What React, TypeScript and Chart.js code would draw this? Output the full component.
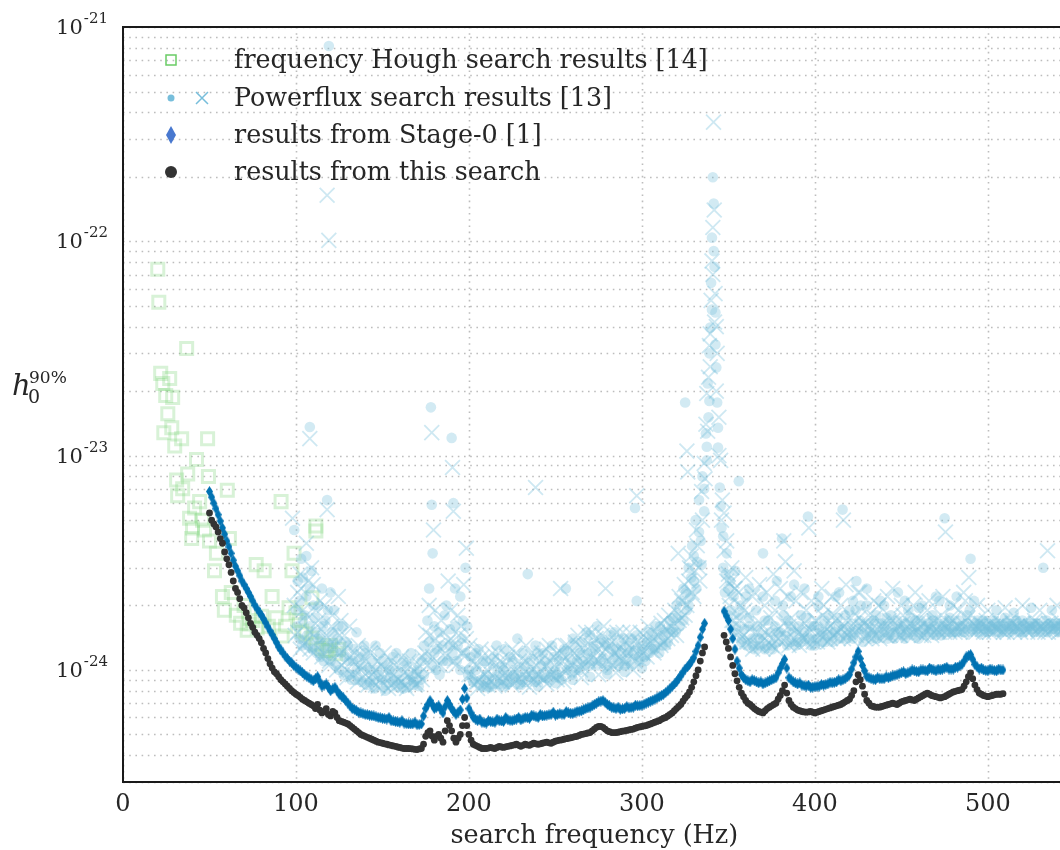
import React, { useEffect, useRef } from "react";
import { Chart, registerables } from "chart.js";

Chart.register(...registerables);

// values are in units of 1e-24
const UNIT = 1e-24;
const X_MIN = 0;
const X_MAX = 545;
const Y_MIN = 3e-25;
const Y_MAX = 1e-21;
const xTickValues = [0, 100, 200, 300, 400, 500];
const gridDecades = [-25, -24, -23, -22];
const yLabelExponents = [-21, -22, -23, -24];
const xTitle = "search frequency (Hz)";
const legendLabels = [
  "frequency Hough search results [14]",
  "Powerflux search results [13]",
  "results from Stage-0 [1]",
  "results from this search",
];

const searchFreq = [
  50, 52.5, 55, 57.5, 60, 62.5, 65, 67.5, 70, 72.5,
  75, 77.5, 80, 82.5, 85, 87.5, 90, 92.5, 95, 97.5,
  100, 102.5, 105, 107.5, 110, 112.5, 115, 117.5, 120, 122.5,
  125, 127.5, 130, 132.5, 135, 137.5, 140, 142.5, 145, 147.5,
  150, 152.5, 155, 157.5, 160, 162.5, 165, 167.5, 170, 172.5,
  175, 177.5, 180, 182.5, 185, 187.5, 190, 192.5, 195, 197.5,
  200, 202.5, 205, 207.5, 210, 212.5, 215, 217.5, 220, 222.5,
  225, 227.5, 230, 232.5, 235, 237.5, 240, 242.5, 245, 247.5,
  250, 252.5, 255, 257.5, 260, 262.5, 265, 267.5, 270, 272.5,
  275, 277.5, 280, 282.5, 285, 287.5, 290, 292.5, 295, 297.5,
  300, 302.5, 305, 307.5, 310, 312.5, 315, 317.5, 320, 322.5,
  325, 327.5, 330, 332.5, 335,
  347.5, 350, 352.5, 355, 357.5, 360, 362.5, 365, 367.5, 370,
  372.5, 375, 377.5, 380, 382.5, 385, 387.5, 390, 392.5, 395,
  397.5, 400, 402.5, 405, 407.5, 410, 412.5, 415, 417.5, 420,
  422.5, 425, 427.5, 430, 432.5, 435, 437.5, 440, 442.5, 445,
  447.5, 450, 452.5, 455, 457.5, 460, 462.5, 465, 467.5, 470,
  472.5, 475, 477.5, 480, 482.5, 485, 487.5, 490, 492.5, 495,
  497.5, 500, 502.5, 505, 507.5,
];

const thisSearchH = [
  5.4, 4.8, 4.4, 3.9, 3.3, 2.85, 2.4, 2.15, 1.95, 1.75,
  1.58, 1.45, 1.34, 1.2, 1.07, 0.98, 0.93, 0.88, 0.84, 0.8,
  0.77, 0.745, 0.72, 0.7, 0.68, 0.69, 0.63, 0.66, 0.61, 0.63,
  0.58, 0.57, 0.56, 0.54, 0.52, 0.5, 0.49, 0.48, 0.47, 0.46,
  0.455, 0.45, 0.445, 0.44, 0.435, 0.43, 0.43, 0.428, 0.425, 0.43,
  0.49, 0.52, 0.47, 0.5, 0.46, 0.58, 0.52, 0.46, 0.5, 0.6,
  0.5, 0.45, 0.44, 0.43, 0.43, 0.435, 0.43, 0.44, 0.435, 0.44,
  0.445, 0.45, 0.44, 0.45, 0.445, 0.455, 0.45, 0.455, 0.46, 0.455,
  0.465, 0.47, 0.475, 0.48, 0.485, 0.49, 0.5, 0.505, 0.51, 0.53,
  0.545, 0.54, 0.52, 0.51, 0.51, 0.515, 0.52, 0.525, 0.53, 0.54,
  0.545, 0.55, 0.56, 0.57, 0.58, 0.595, 0.61, 0.63, 0.66, 0.69,
  0.74, 0.79, 0.88, 1.0, 1.2,
  1.45, 1.26, 1.05, 0.89, 0.78, 0.72, 0.69, 0.66, 0.64, 0.63,
  0.66, 0.68, 0.7, 0.76, 0.85, 0.72, 0.67, 0.65, 0.64, 0.635,
  0.64, 0.63, 0.64, 0.65, 0.66, 0.67, 0.68, 0.69, 0.71, 0.73,
  0.8, 0.95, 0.84, 0.72, 0.68, 0.67, 0.67, 0.68, 0.69, 0.7,
  0.69, 0.71, 0.72, 0.73, 0.72, 0.74, 0.76, 0.78, 0.76, 0.75,
  0.74, 0.75, 0.77, 0.79, 0.8, 0.81, 0.88, 0.97, 0.85, 0.78,
  0.76, 0.75, 0.76, 0.77, 0.77,
];

const stage0H = [
  6.8, 6.0, 5.3, 4.6, 4.0, 3.5, 3.05, 2.75, 2.5, 2.3,
  2.1, 1.93, 1.8, 1.66, 1.52, 1.4, 1.28, 1.2, 1.13, 1.08,
  1.03, 0.99, 0.95, 0.92, 0.89, 0.93, 0.84, 0.86, 0.8, 0.83,
  0.77, 0.74, 0.7, 0.66, 0.645, 0.63, 0.62, 0.615, 0.61, 0.6,
  0.595, 0.59, 0.58, 0.575, 0.57, 0.565, 0.56, 0.56, 0.555, 0.56,
  0.66, 0.72, 0.66, 0.68, 0.63, 0.72, 0.66, 0.62, 0.65, 0.82,
  0.66, 0.6, 0.58, 0.57, 0.565, 0.575, 0.57, 0.58, 0.575, 0.585,
  0.58, 0.59, 0.585, 0.6, 0.595, 0.61, 0.6, 0.61, 0.615, 0.62,
  0.615, 0.625, 0.62, 0.63, 0.625, 0.64, 0.645, 0.66, 0.67, 0.69,
  0.71, 0.72, 0.69, 0.67, 0.66, 0.655, 0.66, 0.665, 0.67, 0.68,
  0.685, 0.7, 0.715, 0.73, 0.75, 0.77, 0.8, 0.84, 0.88, 0.94,
  1.01, 1.06, 1.14, 1.3, 1.55,
  1.88, 1.7, 1.4, 1.1, 0.95, 0.9, 0.88, 0.89, 0.87, 0.86,
  0.88, 0.9, 0.92, 1.02, 1.12, 0.92, 0.88, 0.86, 0.85, 0.84,
  0.83, 0.835, 0.84, 0.85, 0.86, 0.87, 0.88, 0.89, 0.91, 0.95,
  1.08, 1.22, 1.05, 0.93, 0.91, 0.9, 0.91, 0.91, 0.92, 0.94,
  0.95, 0.97, 0.96, 0.98, 0.99, 0.98, 1.0, 0.99, 1.01, 0.99,
  1.0, 1.02, 1.01, 1.01, 1.03, 1.06, 1.15, 1.18, 1.06, 1.01,
  1.0, 0.99, 1.0, 0.99, 1.0,
];

// bins lying halfway between the ones above
const searchFreqMid = [
  51.25, 53.75, 56.25, 58.75, 61.25, 63.75, 66.25, 68.75, 71.25, 73.75,
  76.25, 78.75, 81.25, 83.75, 86.25, 88.75, 91.25, 93.75, 96.25, 98.75,
  101.25, 103.75, 106.25, 108.75, 111.25, 113.75, 116.25, 118.75, 121.25, 123.75,
  126.25, 128.75, 131.25, 133.75, 136.25, 138.75, 141.25, 143.75, 146.25, 148.75,
  151.25, 153.75, 156.25, 158.75, 161.25, 163.75, 166.25, 168.75, 171.25, 173.75,
  176.25, 178.75, 181.25, 183.75, 186.25, 188.75, 191.25, 193.75, 196.25, 198.75,
  201.25, 203.75, 206.25, 208.75, 211.25, 213.75, 216.25, 218.75, 221.25, 223.75,
  226.25, 228.75, 231.25, 233.75, 236.25, 238.75, 241.25, 243.75, 246.25, 248.75,
  251.25, 253.75, 256.25, 258.75, 261.25, 263.75, 266.25, 268.75, 271.25, 273.75,
  276.25, 278.75, 281.25, 283.75, 286.25, 288.75, 291.25, 293.75, 296.25, 298.75,
  301.25, 303.75, 306.25, 308.75, 311.25, 313.75, 316.25, 318.75, 321.25, 323.75,
  326.25, 328.75, 331.25, 333.75, 336.25,
  348.75, 351.25, 353.75, 356.25, 358.75, 361.25, 363.75, 366.25, 368.75, 371.25,
  373.75, 376.25, 378.75, 381.25, 383.75, 386.25, 388.75, 391.25, 393.75, 396.25,
  398.75, 401.25, 403.75, 406.25, 408.75, 411.25, 413.75, 416.25, 418.75, 421.25,
  423.75, 426.25, 428.75, 431.25, 433.75, 436.25, 438.75, 441.25, 443.75, 446.25,
  448.75, 451.25, 453.75, 456.25, 458.75, 461.25, 463.75, 466.25, 468.75, 471.25,
  473.75, 476.25, 478.75, 481.25, 483.75, 486.25, 488.75, 491.25, 493.75, 496.25,
  498.75, 501.25, 503.75, 506.25, 508.75,
];

const thisSearchMid = [
  5.0, 4.65, 4.1, 3.55, 3.1, 2.6, 2.3, 2.0, 1.85, 1.65,
  1.5, 1.4, 1.26, 1.13, 1.02, 0.96, 0.9, 0.86, 0.82, 0.785,
  0.76, 0.73, 0.71, 0.69, 0.66, 0.65, 0.64, 0.62, 0.64, 0.6,
  0.575, 0.565, 0.55, 0.53, 0.51, 0.495, 0.485, 0.475, 0.465, 0.458,
  0.452, 0.447, 0.442, 0.437, 0.432, 0.43, 0.429, 0.426, 0.428, 0.45,
  0.51, 0.49, 0.49, 0.48, 0.52, 0.55, 0.48, 0.48, 0.55, 0.55,
  0.47, 0.445, 0.435, 0.43, 0.432, 0.432, 0.435, 0.437, 0.438, 0.442,
  0.447, 0.445, 0.445, 0.447, 0.45, 0.452, 0.452, 0.458, 0.457, 0.46,
  0.468, 0.472, 0.478, 0.482, 0.488, 0.495, 0.502, 0.508, 0.52, 0.54,
  0.545, 0.53, 0.515, 0.51, 0.512, 0.518, 0.522, 0.528, 0.535, 0.542,
  0.548, 0.555, 0.565, 0.575, 0.588, 0.6, 0.62, 0.645, 0.675, 0.715,
  0.76, 0.83, 0.94, 1.1, 1.28,
  1.35, 1.15, 0.96, 0.83, 0.75, 0.7, 0.675, 0.65, 0.635, 0.645,
  0.67, 0.69, 0.73, 0.8, 0.78, 0.69, 0.66, 0.645, 0.637, 0.637,
  0.635, 0.635, 0.645, 0.655, 0.665, 0.675, 0.685, 0.7, 0.72, 0.76,
  0.88, 0.9, 0.77, 0.7, 0.675, 0.67, 0.675, 0.685, 0.695, 0.695,
  0.7, 0.715, 0.725, 0.725, 0.73, 0.75, 0.77, 0.77, 0.755, 0.745,
  0.745, 0.76, 0.78, 0.795, 0.805, 0.84, 0.93, 0.91, 0.81, 0.77,
  0.755, 0.755, 0.765, 0.77, 0.775,
];

const stage0Mid = [
  6.4, 5.65, 4.95, 4.3, 3.75, 3.25, 2.9, 2.6, 2.4, 2.2,
  2.0, 1.86, 1.73, 1.59, 1.46, 1.34, 1.24, 1.16, 1.1, 1.05,
  1.01, 0.97, 0.935, 0.905, 0.91, 0.88, 0.85, 0.83, 0.815, 0.8,
  0.755, 0.72, 0.68, 0.655, 0.635, 0.625, 0.618, 0.612, 0.605, 0.598,
  0.592, 0.6, 0.578, 0.572, 0.58, 0.562, 0.56, 0.57, 0.556, 0.61,
  0.69, 0.69, 0.67, 0.655, 0.675, 0.69, 0.64, 0.635, 0.73, 0.74,
  0.63, 0.59, 0.59, 0.568, 0.58, 0.572, 0.59, 0.578, 0.6, 0.582,
  0.585, 0.6, 0.592, 0.598, 0.615, 0.605, 0.62, 0.612, 0.618, 0.635,
  0.62, 0.622, 0.64, 0.628, 0.632, 0.642, 0.652, 0.665, 0.68, 0.7,
  0.715, 0.705, 0.68, 0.665, 0.67, 0.658, 0.675, 0.668, 0.685, 0.682,
  0.692, 0.708, 0.722, 0.74, 0.76, 0.785, 0.82, 0.86, 0.91, 0.975,
  1.035, 1.1, 1.22, 1.42, 1.65,
  1.79, 1.55, 1.25, 1.02, 0.92, 0.89, 0.9, 0.88, 0.88, 0.87,
  0.89, 0.91, 0.97, 1.07, 1.02, 0.9, 0.87, 0.87, 0.845, 0.85,
  0.832, 0.838, 0.855, 0.855, 0.875, 0.875, 0.9, 0.9, 0.93, 1.01,
  1.15, 1.13, 0.99, 0.92, 0.905, 0.92, 0.91, 0.93, 0.93, 0.945,
  0.96, 0.98, 0.97, 1.0, 0.985, 1.0, 0.995, 1.02, 1.0, 1.01,
  1.01, 1.03, 1.01, 1.03, 1.045, 1.1, 1.165, 1.12, 1.035, 1.02,
  0.995, 1.01, 0.995, 1.01, 1.0,
];

// [frequency, h0 in 1e-24]
const houghPoints: [number, number][] = [
  [20.1, 74], [20.7, 52], [36.8, 31.6], [21.8, 24.2], [27.0, 22.9], [23.0, 21.7],
  [24.7, 19.1], [28.7, 18.7], [25.9, 15.7], [28.2, 13.5], [23.6, 12.8], [33.9, 12.0],
  [29.9, 11.1], [48.9, 12.0], [42.5, 9.6], [37.4, 8.2], [49.4, 8.0], [31.0, 7.7],
  [34.5, 7.0], [60.3, 6.9], [31.6, 6.5], [91.4, 6.1], [44.3, 6.1], [41.4, 5.7],
  [38.5, 5.1], [46.0, 5.0], [40.2, 4.6], [47.1, 4.5], [61.5, 4.1], [39.7, 4.1],
  [111.5, 4.7], [111.5, 4.45], [54.0, 3.5], [98.9, 3.5], [77.0, 3.1], [81.6, 2.9],
  [52.9, 2.9], [97.7, 2.9], [57.5, 2.2], [86.2, 2.2], [58.6, 1.9], [65.5, 1.8],
  [73.0, 1.64], [92.0, 1.44], [77.6, 1.57], [88.5, 1.75], [96.0, 1.95], [100, 1.85],
  [103.4, 1.52], [109.2, 1.41], [117.2, 1.23], [124.7, 1.25], [109.2, 2.17], [105.7, 1.47],
  [111.5, 1.32], [115, 1.26], [119, 1.23], [123, 1.19], [70, 2.0], [80, 1.78],
  [62.6, 2.3], [50, 4.0], [71.8, 1.53], [84, 1.6], [75, 1.7], [68, 1.65],
  [94, 1.6], [102, 1.7], [120, 1.3],
];

const powerfluxDots: [number, number][] = [
  [119, 815], [108, 13.6], [118, 6.2], [99, 4.5], [106, 3.4],
  [100, 1.9], [101, 2.6], [102, 1.4], [103, 3.3], [104, 1.7], [106, 2.2], [107, 1.3], [108, 1.6],
  [109, 2.9], [111, 1.5], [112, 1.2], [113, 2.0], [114, 1.4], [116, 1.1], [117, 1.7], [118, 1.3],
  [120, 2.3], [121, 1.5], [122, 1.2], [124, 1.4], [125, 1.0], [127, 1.6], [128, 1.15], [130, 1.3],
  [131, 0.95], [133, 1.1], [135, 1.5], [136, 0.9], [138, 1.05], [140, 1.2], [141, 0.85], [143, 1.0],
  [145, 0.9], [146, 1.3], [148, 0.95], [150, 1.1], [152, 0.85], [154, 1.0], [156, 0.88], [158, 1.2],
  [160, 0.9], [162, 0.82], [164, 1.05], [166, 0.9], [168, 0.85], [170, 1.0], [172, 0.9], [174, 1.3],
  [176, 1.7], [177, 2.4], [178, 16.8], [179, 3.5], [178.5, 5.9], [180, 1.2], [181, 1.0], [183, 1.5],
  [185, 1.1], [187, 2.0], [189, 1.3], [190, 12.1], [191, 6.0], [192, 1.6], [193, 1.1], [195, 2.2],
  [196, 1.4], [198, 3.0], [199, 1.6], [200, 1.0], [202, 0.9], [204, 1.2], [206, 0.85], [208, 1.1],
  [210, 0.95], [212, 0.83], [214, 1.05], [216, 1.3], [218, 0.9], [220, 1.0], [222, 0.86], [224, 1.15],
  [226, 0.95], [228, 1.4], [230, 0.9], [232, 1.05], [234, 2.8], [236, 1.0], [238, 0.88], [240, 1.2],
  [242, 0.95], [244, 1.1], [246, 0.9], [248, 1.3], [250, 1.0], [252, 0.92], [254, 1.2], [256, 2.4],
  [258, 1.05], [260, 1.4], [262, 1.0], [264, 1.2], [266, 1.1], [268, 1.5], [270, 1.05], [272, 1.3],
  [274, 1.6], [276, 1.1], [278, 1.35], [280, 1.0], [282, 1.25], [284, 1.5], [286, 1.1], [288, 1.3],
  [290, 1.05], [292, 1.2], [294, 1.4], [296, 5.7], [297, 2.1], [298, 1.15], [300, 1.3], [302, 1.1],
  [304, 1.5], [306, 1.25], [308, 1.6], [310, 1.2], [312, 1.45], [314, 1.3], [316, 1.7], [318, 1.5],
  [320, 2.0], [322, 1.6], [324, 2.4], [325, 17.7], [326, 1.9], [327, 3.0], [328, 2.2], [329, 3.8],
  [330, 2.6], [331, 5.0], [332, 3.2], [333, 6.2], [334, 4.0], [335, 8.0], [336, 5.5], [337, 12.7],
  [337.5, 9.5], [338, 21.7], [338.5, 15.1], [339, 30], [339.5, 39.6], [340, 64], [340.5, 104],
  [341, 199], [341.5, 150], [342, 76], [342.5, 46.6], [343, 25.8], [343.5, 17.7], [344, 10.9],
  [345, 7.1], [346, 4.6], [347, 3.0], [348, 2.3], [349, 3.5], [350, 1.8], [351, 2.6], [353, 1.5],
  [356, 7.6], [357, 2.0], [358, 1.4], [360, 2.2], [362, 1.6], [364, 1.3], [366, 1.9], [368, 1.4],
  [370, 3.5], [371, 1.25], [373, 1.7], [375, 1.3], [377, 2.1], [379, 1.5], [381, 4.1], [382, 1.8],
  [384, 1.3], [386, 1.6], [388, 2.5], [390, 1.35], [392, 1.8], [394, 1.4], [396, 5.2], [398, 1.6],
  [400, 1.3], [402, 2.0], [404, 1.5], [406, 1.35], [408, 1.8], [410, 1.45], [412, 2.2], [414, 1.6],
  [416, 5.6], [418, 1.4], [420, 1.9], [422, 1.5], [424, 2.6], [426, 1.7], [428, 1.35], [430, 2.0],
  [432, 1.5], [434, 1.7], [436, 1.4], [438, 2.1], [440, 1.6], [442, 1.4], [444, 1.8], [446, 1.5],
  [448, 2.3], [450, 1.6], [452, 1.4], [454, 1.9], [456, 1.55], [458, 1.7], [460, 1.4], [462, 2.0],
  [464, 1.6], [466, 1.5], [468, 1.8], [470, 1.45], [472, 2.1], [474, 1.6], [475, 5.1], [476, 1.5],
  [478, 1.75], [480, 1.5], [482, 2.2], [484, 1.6], [486, 1.5], [488, 1.8], [490, 3.3], [492, 1.55],
  [494, 1.7], [496, 1.6], [498, 1.5], [500, 1.65], [502, 1.55], [504, 1.7], [506, 1.6], [508, 1.5],
  [510, 1.75], [512, 1.6], [514, 1.55], [516, 1.65], [518, 1.5], [520, 1.7], [522, 1.6], [524, 1.55],
  [526, 1.65], [528, 1.6], [530, 1.5], [532, 3.0], [534, 1.7], [536, 1.6], [538, 1.55], [540, 1.65],
  [542, 1.6], [544, 1.55],
  [100.5, 1.6], [102, 2.1], [103.5, 1.3], [105, 1.8], [106.5, 1.45], [108, 2.4], [109.5, 1.25],
  [111, 1.75], [112.5, 1.4], [114, 1.15], [115.5, 1.6], [117, 1.25], [118.5, 1.9], [120, 1.1],
  [121.5, 1.35], [123, 1.05], [124.5, 1.6], [126, 1.2], [127.5, 0.95], [129, 1.35], [130.5, 1.1],
  [132, 0.9], [133.5, 1.25], [135, 1.0], [136.5, 1.15], [138, 0.88], [139.5, 1.3], [141, 1.0],
  [142.5, 0.88], [144, 1.1], [145.5, 0.82], [147, 1.0], [148.5, 1.2], [150, 0.9], [151.5, 0.8],
  [153, 1.05], [154.5, 0.92], [156, 1.15], [157.5, 0.84], [159, 0.97], [160.5, 0.86], [162, 1.1],
  [163.5, 0.83], [165, 0.95], [166.5, 1.2], [168, 0.88], [169.5, 0.96], [171, 0.84], [172.5, 1.1],
  [174, 0.95], [175.5, 1.15], [177, 1.35], [178.5, 1.05], [180, 1.6], [181.5, 1.25], [183, 0.95],
  [184.5, 1.3], [186, 1.8], [187.5, 1.1], [189, 1.55], [190.5, 1.2], [192, 2.4], [193.5, 1.3],
  [195, 1.0], [196.5, 1.7], [198, 1.2], [199.5, 0.95], [201, 1.15], [202.5, 0.88], [204, 1.0],
  [205.5, 1.25], [207, 0.9], [208.5, 0.84], [210, 1.1], [211.5, 0.9], [213, 0.86], [214.5, 1.15],
  [216, 0.95], [217.5, 0.86], [219, 1.05], [220.5, 1.25], [222, 0.95], [223.5, 0.88], [225, 1.1],
  [226.5, 0.92], [228, 1.0], [229.5, 0.86], [231, 1.2], [232.5, 0.95], [234, 0.9], [235.5, 1.1],
  [237, 0.95], [238.5, 1.3], [240, 0.9], [241.5, 1.05], [243, 1.2], [244.5, 0.92], [246, 1.05],
  [247.5, 0.95], [249, 1.15], [250.5, 0.95], [252, 1.1], [253.5, 0.9], [255, 1.25], [256.5, 1.0],
  [258, 1.15], [259.5, 0.95], [261, 1.3], [262.5, 1.1], [264, 1.0], [265.5, 1.35], [267, 1.05],
  [268.5, 1.2], [270, 1.45], [271.5, 1.1], [273, 1.25], [274.5, 1.05], [276, 1.4], [277.5, 1.15],
  [279, 1.3], [280.5, 1.05], [282, 1.45], [283.5, 1.15], [285, 1.25], [286.5, 1.05], [288, 1.2],
  [289.5, 1.4], [291, 1.1], [292.5, 1.3], [294, 1.05], [295.5, 1.2], [297, 1.45], [298.5, 1.1],
  [300, 1.25], [301.5, 1.15], [303, 1.35], [304.5, 1.2], [306, 1.45], [307.5, 1.25], [309, 1.35],
  [310.5, 1.6], [312, 1.3], [313.5, 1.5], [315, 1.35], [316.5, 1.55], [318, 1.75], [319.5, 1.5],
  [321, 1.8], [322.5, 2.1], [324, 1.7], [325.5, 2.3], [327, 2.0], [328.5, 2.7], [330, 3.4],
  [331.5, 2.4], [333, 4.4], [334.5, 3.1], [336, 7.0], [337.5, 11], [339, 18], [340.5, 48],
  [341.5, 90], [342.5, 33], [344, 13.5], [345.5, 5.8], [347, 4.2], [348.5, 2.8], [350, 2.4],
  [351.5, 1.9], [353, 2.2], [354.5, 1.6], [356, 1.8], [357.5, 1.35], [359, 1.55], [360.5, 1.3],
  [362, 1.75], [363.5, 1.4], [365, 1.25], [366.5, 1.6], [368, 1.3], [369.5, 1.45], [371, 1.7],
  [372.5, 1.3], [374, 1.5], [375.5, 1.25], [377, 1.6], [378.5, 1.35], [380, 1.5], [381.5, 2.0],
  [383, 1.45], [384.5, 1.7], [386, 1.35], [387.5, 1.5], [389, 1.3], [390.5, 1.6], [392, 1.35],
  [393.5, 1.5], [395, 1.75], [396.5, 1.4], [398, 1.3], [399.5, 1.6], [401, 1.4], [402.5, 1.55],
  [404, 1.35], [405.5, 1.7], [407, 1.45], [408.5, 1.6], [410, 1.35], [411.5, 1.5], [413, 1.75],
  [414.5, 1.4], [416, 1.55], [417.5, 1.8], [419, 1.45], [420.5, 1.6], [422, 1.4], [423.5, 1.9],
  [425, 1.55], [426.5, 2.0], [428, 1.6], [429.5, 1.45], [431, 1.65], [432.5, 1.4], [434, 1.55],
  [435.5, 1.8], [437, 1.45], [438.5, 1.65], [440, 1.5], [441.5, 1.75], [443, 1.45], [444.5, 1.6],
  [446, 1.4], [447.5, 1.7], [449, 1.55], [450.5, 1.45], [452, 1.65], [453.5, 1.5], [455, 1.75],
  [456.5, 1.45], [458, 1.6], [459.5, 1.5], [461, 1.7], [462.5, 1.55], [464, 1.45], [465.5, 1.65],
  [467, 1.55], [468.5, 1.7], [470, 1.5], [471.5, 1.6], [473, 1.45], [474.5, 1.65], [476, 1.55],
  [477.5, 1.7], [479, 1.5], [480.5, 1.6], [482, 1.5], [483.5, 1.7], [485, 1.6], [486.5, 1.5],
  [488, 1.65], [489.5, 1.9], [491, 1.55], [492.5, 1.65], [494, 1.5], [495.5, 1.6], [497, 1.7],
  [498.5, 1.55], [500, 1.5], [501.5, 1.6], [503, 1.55], [504.5, 1.65], [506, 1.5], [507.5, 1.6],
  [509, 1.55], [510.5, 1.65], [512, 1.5], [513.5, 1.6], [515, 1.55], [516.5, 1.7], [518, 1.6],
  [519.5, 1.55], [521, 1.5], [522.5, 1.65], [524, 1.6], [525.5, 1.55], [527, 1.5], [528.5, 1.65],
  [530, 1.6], [531.5, 1.55], [533, 1.6], [534.5, 1.5], [536, 1.65], [537.5, 1.55], [539, 1.6],
  [540.5, 1.5], [542, 1.65], [543.5, 1.6], [545, 1.55],
  [354, 2.9], [362, 2.4], [370, 2.2], [378, 2.6], [386, 2.2], [394, 2.4], [402, 2.2], [414, 2.3],
  [422, 2.1], [430, 2.4], [440, 2.0], [452, 2.1], [460, 1.95], [470, 2.2], [478, 2.0], [492, 2.1],
  [505, 1.9], [515, 1.85], [525, 1.95], [537, 1.9],
  [210, 0.83], [220, 0.84], [230, 0.85], [240, 0.84], [250, 0.87], [260, 0.9], [270, 0.93],
  [280, 0.96], [290, 0.98], [300, 1.02], [104, 2.7], [110, 2.0], [115, 2.4], [122, 1.9],
];

const powerfluxCrosses: [number, number][] = [
  [118, 164], [119, 101], [108, 12.0], [118, 5.6], [106, 3.9],
  [98, 5.1], [99, 2.0], [101, 1.5], [102.5, 2.8], [104, 1.3], [106, 1.8], [108, 1.25], [110, 2.5],
  [111.5, 1.3], [113, 1.7], [115, 1.15], [116.5, 2.0], [118, 1.4], [119.5, 1.1], [121, 1.8], [123, 1.3],
  [124.5, 2.2], [126, 1.2], [128, 1.45], [129.5, 1.0], [131, 1.6], [132.5, 1.1], [134, 0.95], [136, 1.3],
  [137.5, 1.0], [139, 1.15], [141, 0.9], [142.5, 1.25], [144, 0.95], [146, 0.85], [147.5, 1.1], [149, 0.9],
  [151, 1.2], [153, 0.95], [155, 0.85], [157, 1.05], [159, 0.9], [161, 1.15], [163, 0.85], [165, 0.95],
  [167, 1.1], [169, 0.85], [171, 0.95], [173, 1.15], [175, 1.5], [177, 2.0], [178.5, 12.8], [179.5, 4.5],
  [180.5, 1.4], [182, 1.05], [184, 1.7], [186, 1.2], [188, 2.6], [189.5, 1.4], [190.5, 8.8], [191, 5.5],
  [191.5, 1.1], [193.5, 1.8], [195.5, 1.2], [197, 2.5], [198.5, 3.7], [200.5, 1.3], [201.5, 0.95],
  [203, 1.1], [205, 0.88], [207, 1.25], [209, 0.95], [211, 0.85], [213, 1.1], [215, 0.92], [217, 1.2],
  [219, 0.88], [221, 1.05], [223, 0.92], [225, 1.25], [227, 0.9], [229, 1.1], [231, 0.95], [233, 1.3],
  [235, 0.9], [237, 1.15], [238.5, 7.1], [239, 0.95], [241, 1.1], [243, 0.9], [245, 1.25], [247, 0.95],
  [249, 1.15], [251, 0.9], [253, 2.4], [253.5, 1.2], [255, 1.0], [257, 1.3], [259, 1.05], [261, 1.2],
  [263, 1.45], [265, 1.05], [267, 1.3], [269, 1.15], [271, 1.5], [273, 1.1], [275, 1.25], [277, 1.45],
  [279, 2.4], [279.5, 1.1], [281, 1.3], [283, 1.05], [285, 1.35], [287, 1.15], [289, 1.5], [291, 1.1],
  [293, 1.3], [295, 1.15], [297, 6.5], [297.5, 1.35], [299, 1.2], [301, 1.45], [303, 1.15], [305, 1.35],
  [307, 1.2], [309, 1.5], [311, 1.3], [313, 1.7], [315, 1.4], [317, 1.6], [319, 1.9], [321, 3.5],
  [321.5, 1.7], [323, 2.1], [325, 1.8], [326, 10.5], [326.5, 8.4], [327, 2.6], [328.5, 3.4], [330, 2.2],
  [331.5, 4.5], [333, 3.0], [334.5, 6.8], [336, 9.2], [337, 14], [337.5, 19.5], [338.5, 23.2],
  [339, 32.6], [339.5, 37], [340, 53], [340.5, 81], [341, 116], [341.4, 360], [341.8, 140],
  [342.3, 57], [343, 40], [343.5, 30], [344.5, 15.1], [345.5, 9.5], [346.5, 6.2], [347.5, 5.4],
  [349, 4.0], [350, 2.8], [351, 2.2], [352, 3.0], [353, 1.7], [354, 2.4], [355.5, 1.5], [357, 2.0],
  [359, 1.45], [361, 1.8], [363, 1.35], [365, 2.3], [367, 1.5], [369, 1.3], [371, 2.0], [373, 1.45],
  [375, 1.3], [377, 1.9], [379, 1.4], [382, 4.0], [383, 3.2], [385, 1.6], [387, 1.35], [389, 2.1],
  [391, 1.5], [393, 1.4], [395, 1.9], [396.5, 4.6], [397, 1.5], [399, 1.35], [401, 1.7], [403, 1.45],
  [405, 2.0], [407, 1.55], [409, 1.4], [411, 1.8], [413, 1.5], [415, 2.0], [416.5, 5.0], [417, 1.6],
  [419, 1.45], [421, 1.75], [423, 1.5], [425, 2.3], [427, 1.6], [429, 1.4], [431, 1.8], [433, 1.55],
  [435, 1.45], [437, 2.0], [439, 1.6], [441, 1.45], [443, 1.7], [445, 2.4], [447, 1.55], [449, 1.45],
  [451, 1.8], [453, 1.5], [455, 1.65], [457, 2.0], [459, 1.5], [461, 1.7], [463, 1.45], [465, 1.9],
  [467, 1.55], [469, 1.65], [471, 1.5], [473, 1.8], [475.5, 4.4], [477, 1.55], [479, 1.65], [481, 1.5],
  [483, 1.9], [485, 1.55], [487, 2.1], [489, 2.7], [491, 1.6], [493, 1.5], [495, 1.65], [497, 1.55],
  [499, 1.7], [501, 1.5], [503, 1.6], [505, 1.55], [507, 1.65], [509, 1.5], [511, 1.6], [513, 1.7],
  [515, 1.55], [517, 1.6], [519, 1.5], [521, 1.65], [523, 1.55], [525, 1.6], [527, 1.7], [529, 1.55],
  [531, 1.6], [533, 1.5], [534.5, 3.6], [535, 1.65], [537, 1.55], [539, 1.6], [541, 1.7], [543, 1.55],
  [545, 1.6],
  [99.5, 1.45], [101, 2.3], [102.5, 1.25], [104, 1.9], [105.5, 1.35], [107, 2.6], [108.5, 1.5],
  [110, 1.2], [111.5, 1.9], [113, 1.3], [114.5, 1.55], [116, 1.2], [117.5, 1.45], [119, 1.05],
  [120.5, 1.6], [122, 1.25], [123.5, 1.0], [125, 1.45], [126.5, 1.05], [128, 1.25], [129.5, 0.92],
  [131, 1.15], [132.5, 0.95], [134, 1.2], [135.5, 0.88], [137, 1.05], [138.5, 0.92], [140, 1.1],
  [141.5, 0.85], [143, 1.2], [144.5, 0.88], [146, 1.0], [147.5, 0.84], [149, 1.05], [150.5, 0.86],
  [152, 1.0], [153.5, 0.82], [155, 1.1], [156.5, 0.95], [158, 0.84], [159.5, 1.05], [161, 0.88],
  [162.5, 0.97], [164, 0.82], [165.5, 1.1], [167, 0.9], [168.5, 0.98], [170, 0.86], [171.5, 1.05],
  [173, 0.9], [174.5, 1.2], [176, 1.05], [177.5, 1.45], [179, 1.15], [180.5, 1.9], [182, 1.3],
  [183.5, 1.05], [185, 1.5], [186.5, 1.15], [188, 1.35], [189.5, 1.9], [191, 1.3], [192.5, 1.05],
  [194, 1.45], [195.5, 1.6], [197, 1.2], [198.5, 1.4], [200, 0.95], [201.5, 1.1], [203, 0.86],
  [204.5, 1.05], [206, 0.9], [207.5, 1.15], [209, 0.86], [210.5, 1.0], [212, 0.9], [213.5, 1.2],
  [215, 0.86], [216.5, 1.0], [218, 1.1], [219.5, 0.88], [221, 0.97], [222.5, 1.15], [224, 0.88],
  [225.5, 1.0], [227, 1.2], [228.5, 0.9], [230, 1.05], [231.5, 0.88], [233, 1.1], [234.5, 0.95],
  [236, 1.2], [237.5, 0.9], [239, 1.05], [240.5, 0.95], [242, 1.2], [243.5, 0.92], [245, 1.05],
  [246.5, 1.3], [248, 0.95], [249.5, 1.05], [251, 1.2], [252.5, 0.95], [254, 1.1], [255.5, 1.3],
  [257, 1.0], [258.5, 1.2], [260, 1.05], [261.5, 1.35], [263, 1.15], [264.5, 1.0], [266, 1.25],
  [267.5, 1.5], [269, 1.1], [270.5, 1.3], [272, 1.15], [273.5, 1.4], [275, 1.1], [276.5, 1.3],
  [278, 1.6], [279.5, 1.25], [281, 1.1], [282.5, 1.35], [284, 1.2], [285.5, 1.5], [287, 1.25],
  [288.5, 1.1], [290, 1.35], [291.5, 1.2], [293, 1.5], [294.5, 1.25], [296, 1.1], [297.5, 1.3],
  [299, 1.5], [300.5, 1.2], [302, 1.35], [303.5, 1.6], [305, 1.3], [306.5, 1.4], [308, 1.25],
  [309.5, 1.45], [311, 1.65], [312.5, 1.35], [314, 1.55], [315.5, 1.8], [317, 1.45], [318.5, 1.65],
  [320, 1.45], [321.5, 2.2], [323, 1.75], [324.5, 2.5], [326, 2.0], [327.5, 3.0], [329, 2.3],
  [330.5, 2.9], [332, 3.8], [333.5, 2.6], [335, 5.0], [336.5, 7.8], [338, 13], [339.5, 26],
  [341, 70], [342, 42], [343, 20], [344.5, 10], [346, 5.0], [347.5, 3.6], [349, 2.6], [350.5, 2.0],
  [352, 1.7], [353.5, 2.4], [355, 1.45], [356.5, 1.7], [358, 1.3], [359.5, 1.9], [361, 1.35],
  [362.5, 1.55], [364, 1.25], [365.5, 1.5], [367, 1.3], [368.5, 1.65], [370, 1.25], [371.5, 1.5],
  [373, 1.35], [374.5, 1.75], [376, 1.4], [377.5, 1.25], [379, 1.55], [380.5, 1.35], [382, 1.65],
  [383.5, 1.4], [385, 1.3], [386.5, 1.75], [388, 1.4], [389.5, 1.55], [391, 1.3], [392.5, 1.45],
  [394, 1.65], [395.5, 1.35], [397, 1.55], [398.5, 1.4], [400, 1.7], [401.5, 1.35], [403, 1.5],
  [404.5, 1.8], [406, 1.45], [407.5, 1.35], [409, 1.6], [410.5, 1.45], [412, 1.7], [413.5, 1.4],
  [415, 1.55], [416.5, 1.4], [418, 1.7], [419.5, 1.5], [421, 1.4], [422.5, 1.65], [424, 1.45],
  [425.5, 1.75], [427, 1.5], [428.5, 1.65], [430, 1.45], [431.5, 1.6], [433, 1.4], [434.5, 1.75],
  [436, 1.55], [437.5, 1.4], [439, 1.65], [440.5, 1.5], [442, 1.6], [443.5, 1.45], [445, 1.7],
  [446.5, 1.5], [448, 1.6], [449.5, 1.45], [451, 1.65], [452.5, 1.55], [454, 1.45], [455.5, 1.6],
  [457, 1.5], [458.5, 1.75], [460, 1.55], [461.5, 1.45], [463, 1.65], [464.5, 1.5], [466, 1.6],
  [467.5, 1.45], [469, 1.7], [470.5, 1.55], [472, 1.5], [473.5, 1.65], [475, 1.5], [476.5, 1.6],
  [478, 1.5], [479.5, 1.7], [481, 1.55], [482.5, 1.6], [484, 1.5], [485.5, 1.65], [487, 1.55],
  [488.5, 1.75], [490, 1.6], [491.5, 1.5], [493, 1.6], [494.5, 1.55], [496, 1.65], [497.5, 1.5],
  [499, 1.6], [500.5, 1.55], [502, 1.65], [503.5, 1.5], [505, 1.6], [506.5, 1.55], [508, 1.65],
  [509.5, 1.55], [511, 1.5], [512.5, 1.6], [514, 1.65], [515.5, 1.5], [517, 1.6], [518.5, 1.55],
  [520, 1.65], [521.5, 1.55], [523, 1.5], [524.5, 1.6], [526, 1.55], [527.5, 1.65], [529, 1.5],
  [530.5, 1.6], [532, 1.55], [533.5, 1.6], [535, 1.5], [536.5, 1.65], [538, 1.55], [539.5, 1.6],
  [541, 1.5], [542.5, 1.6], [544, 1.55],
  [352, 2.6], [356, 2.3], [360, 2.7], [364, 2.2], [368, 2.5], [372, 2.3], [376, 2.8], [380, 2.4],
  [384, 2.2], [388, 2.9], [392, 2.3], [398, 2.1], [404, 2.4], [410, 2.2], [418, 2.5], [426, 2.3],
  [434, 2.1], [442, 2.2], [450, 2.0], [458, 2.3], [466, 2.1], [474, 2.2], [480, 2.0], [486, 2.3],
  [494, 2.0], [500, 1.9], [510, 1.95], [520, 2.0], [530, 1.9], [540, 2.0],
  [205, 0.82], [215, 0.84], [225, 0.85], [235, 0.83], [245, 0.86], [255, 0.88], [265, 0.92],
  [275, 0.95], [285, 0.97], [295, 1.0], [103, 2.4], [109, 3.0], [114, 2.1], [126, 1.7],
];

const FONT = "'DejaVu Serif', serif";
const TEXT_COLOR = "#262626";
const GRID_COLOR = "#bdbdbd";
const HOUGH_COLOR = "#6ACC65";
const PF_COLOR = "#77BEDB";
const STAGE0_LEGEND = "#4878CF";
const STAGE0_COLOR = "#0072B2";
const SEARCH_COLOR = "#333333";

function makeDiamond(w: number, h: number, color: string) {
  const c = document.createElement("canvas");
  c.width = w;
  c.height = h;
  const g = c.getContext("2d")!;
  g.fillStyle = color;
  g.beginPath();
  g.moveTo(w / 2, 0);
  g.lineTo(w, h / 2);
  g.lineTo(w / 2, h);
  g.lineTo(0, h / 2);
  g.closePath();
  g.fill();
  return c;
}

function yGridTicks() {
  const out: { value: number }[] = [];
  for (const e of gridDecades) {
    for (let k = 1; k <= 9; k++) {
      const v = k * Math.pow(10, e);
      if (v >= Y_MIN * 0.999 && v <= Y_MAX * 1.001) out.push({ value: v });
    }
  }
  out.push({ value: Y_MAX });
  return out;
}

const gridPlugin = {
  id: "dottedGrid",
  beforeDatasetsDraw(chart: any) {
    const { ctx, chartArea: a, scales } = chart;
    ctx.save();
    ctx.strokeStyle = GRID_COLOR;
    ctx.lineWidth = 1.6;
    ctx.setLineDash([1.6, 4.6]);
    ctx.beginPath();
    for (const t of scales.y.ticks) {
      const y = Math.round(scales.y.getPixelForValue(t.value)) + 0.5;
      ctx.moveTo(a.left, y);
      ctx.lineTo(a.right, y);
    }
    for (const t of scales.x.ticks) {
      const x = Math.round(scales.x.getPixelForValue(t.value)) + 0.5;
      ctx.moveTo(x, a.top);
      ctx.lineTo(x, a.bottom);
    }
    ctx.stroke();
    ctx.restore();
  },
};

const overlayPlugin = {
  id: "overlay",
  afterDraw(chart: any) {
    const { ctx, chartArea: a, scales } = chart;
    ctx.save();
    // frame
    ctx.strokeStyle = "#1a1a1a";
    ctx.lineWidth = 2;
    ctx.strokeRect(a.left, a.top, a.right - a.left, a.bottom - a.top);

    // y tick labels 10^n
    ctx.fillStyle = TEXT_COLOR;
    ctx.textAlign = "right";
    ctx.textBaseline = "alphabetic";
    const rightX = a.left - 15;
    for (const e of yLabelExponents) {
      const y = scales.y.getPixelForValue(Math.pow(10, e));
      const sup = String(e);
      ctx.font = `15px ${FONT}`;
      const sw = ctx.measureText(sup).width;
      ctx.fillText(sup, rightX, y - 4);
      ctx.font = `21px ${FONT}`;
      ctx.fillText("10", rightX - sw - 1, y + 7);
    }

    // y axis label h_0^{90%}
    ctx.textAlign = "left";
    ctx.font = `italic 29px ${FONT}`;
    ctx.fillText("h", 4, 387);
    ctx.font = `19px ${FONT}`;
    ctx.fillText("0", 20, 395);
    ctx.font = `17px ${FONT}`;
    ctx.fillText("90%", 21, 375);

    // legend
    const lx = 163;
    const rows = [52, 90, 127, 164];
    ctx.strokeStyle = HOUGH_COLOR;
    ctx.lineWidth = 1.5;
    ctx.strokeRect(lx - 5, rows[0] - 5, 10, 10);
    ctx.fillStyle = PF_COLOR;
    ctx.beginPath();
    ctx.arc(lx, rows[1], 3.5, 0, Math.PI * 2);
    ctx.fill();
    ctx.strokeStyle = PF_COLOR;
    ctx.beginPath();
    ctx.moveTo(lx + 25, rows[1] - 6);
    ctx.lineTo(lx + 37, rows[1] + 6);
    ctx.moveTo(lx + 37, rows[1] - 6);
    ctx.lineTo(lx + 25, rows[1] + 6);
    ctx.stroke();
    ctx.fillStyle = STAGE0_LEGEND;
    ctx.beginPath();
    ctx.moveTo(lx, rows[2] - 9);
    ctx.lineTo(lx + 5, rows[2]);
    ctx.lineTo(lx, rows[2] + 9);
    ctx.lineTo(lx - 5, rows[2]);
    ctx.closePath();
    ctx.fill();
    ctx.fillStyle = SEARCH_COLOR;
    ctx.beginPath();
    ctx.arc(lx, rows[3], 6, 0, Math.PI * 2);
    ctx.fill();

    ctx.fillStyle = TEXT_COLOR;
    ctx.font = `25.4px ${FONT}`;
    ctx.textBaseline = "middle";
    legendLabels.forEach((t, i) => ctx.fillText(t, 226, rows[i] + 1));
    ctx.restore();
  },
};

export default function App() {
  const ref = useRef<HTMLCanvasElement | null>(null);
  useEffect(() => {
    if (!ref.current) return;
    const diamond = makeDiamond(7, 11, STAGE0_COLOR);
    const toPts = (fs: number[], vs: number[]) =>
      fs.slice(0, vs.length).map((f, i) => ({ x: f, y: vs[i] * UNIT }));
    const chart = new Chart(ref.current, {
      type: "scatter",
      data: {
        datasets: [
          {
            label: legendLabels[3],
            data: [...toPts(searchFreq, thisSearchH), ...toPts(searchFreqMid, thisSearchMid)],
            pointStyle: "circle",
            pointRadius: 3.4,
            pointBackgroundColor: SEARCH_COLOR,
            pointBorderWidth: 0,
            order: 0,
          },
          {
            label: legendLabels[2],
            data: [...toPts(searchFreq, stage0H), ...toPts(searchFreqMid, stage0Mid)],
            pointStyle: diamond,
            pointRadius: 4,
            order: 1,
          },
          {
            label: legendLabels[1] + " (x)",
            data: powerfluxCrosses.map(([f, v]) => ({ x: f, y: v * UNIT })),
            pointStyle: "crossRot",
            pointRadius: 10.5,
            pointBorderColor: "rgba(119,190,219,0.36)",
            pointBorderWidth: 1.8,
            order: 2,
          },
          {
            label: legendLabels[1],
            data: powerfluxDots.map(([f, v]) => ({ x: f, y: v * UNIT })),
            pointStyle: "circle",
            pointRadius: 5.3,
            pointBackgroundColor: "rgba(119,190,219,0.33)",
            pointBorderWidth: 0,
            order: 3,
          },
          {
            label: legendLabels[0],
            data: houghPoints.map(([f, v]) => ({ x: f, y: v * UNIT })),
            pointStyle: "rect",
            pointRadius: 8.5,
            pointBackgroundColor: "rgba(0,0,0,0)",
            pointBorderColor: "rgba(106,204,101,0.26)",
            pointBorderWidth: 3,
            order: 4,
          },
        ],
      } as any,
      options: {
        animation: false,
        responsive: false,
        devicePixelRatio: 1,
        events: [],
        layout: { padding: { top: 19, right: 7, left: 0, bottom: 0 } },
        plugins: { legend: { display: false }, tooltip: { enabled: false } },
        scales: {
          x: {
            type: "linear",
            min: X_MIN,
            max: X_MAX,
            afterBuildTicks: (s: any) => {
              s.ticks = xTickValues.map((v) => ({ value: v }));
            },
            afterFit: (s: any) => {
              s.height = 68;
            },
            grid: { display: false, drawTicks: false },
            border: { display: false },
            ticks: {
              color: TEXT_COLOR,
              font: { family: FONT, size: 24 },
              padding: 8,
              maxRotation: 0,
              autoSkip: false,
            },
            title: {
              display: true,
              text: xTitle,
              color: TEXT_COLOR,
              font: { family: FONT, size: 25.5 },
              padding: { top: 0, bottom: -2 },
            },
          },
          y: {
            type: "logarithmic",
            min: Y_MIN,
            max: Y_MAX,
            afterBuildTicks: (s: any) => {
              s.ticks = yGridTicks();
            },
            afterFit: (s: any) => {
              s.width = 115;
            },
            grid: { display: false, drawTicks: false },
            border: { display: false },
            ticks: { display: false, autoSkip: false },
          },
        },
      } as any,
      plugins: [gridPlugin, overlayPlugin],
    });
    return () => chart.destroy();
  }, []);

  return (
    <div
      style={{
        position: "fixed",
        left: 8,
        top: 8,
        width: 1052,
        height: 842,
        overflow: "hidden",
        background: "#ffffff",
      }}
    >
      <canvas ref={ref} width={1070} height={842} style={{ display: "block" }} />
    </div>
  );
}
